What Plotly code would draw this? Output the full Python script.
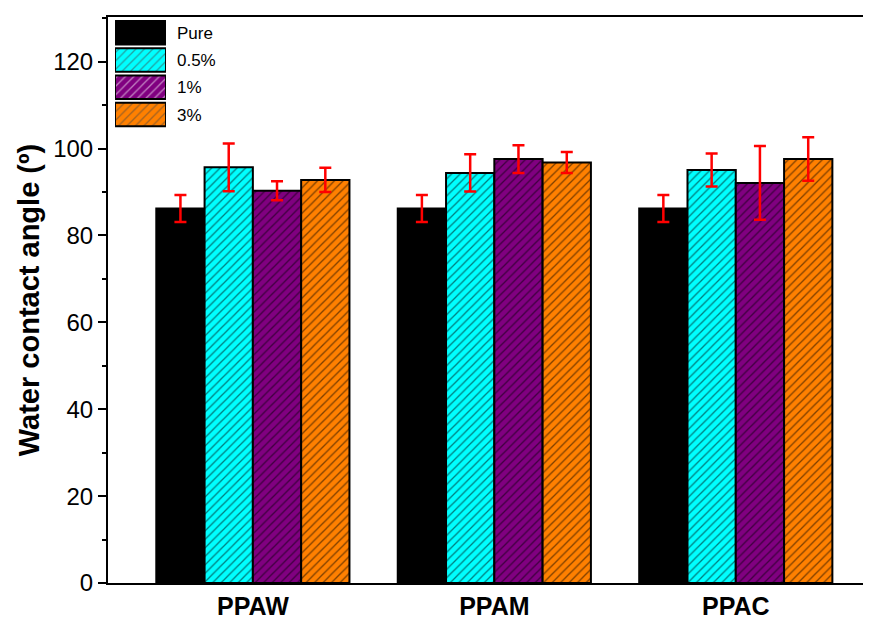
import plotly.graph_objects as go

# ---- data ----
categories = ["PPAW", "PPAM", "PPAC"]
series_names = ["Pure", "0.5%", "1%", "3%"]
pure = [86.2, 86.2, 86.2]
pure_err = [3.1, 3.1, 3.1]
p05 = [95.7, 94.4, 95.1]
p05_err = [5.5, 4.3, 3.8]
p1 = [90.3, 97.6, 92.1]
p1_err = [2.2, 3.2, 8.5]
p3 = [92.8, 96.8, 97.6]
p3_err = [2.8, 2.4, 5.0]
y_ticks = [0, 20, 40, 60, 80, 100, 120]

values = [pure, p05, p1, p3]
errors = [pure_err, p05_err, p1_err, p3_err]
colors = ["#000000", "#00FFFF", "#800080", "#FF8000"]
shapes = ["", "/", "/", "/"]

FONT = "Arial, Liberation Sans, sans-serif"

fig = go.Figure()
for name, v, e, c, s in zip(series_names, values, errors, colors, shapes):
    fig.add_trace(go.Bar(
        x=categories, y=v, name=name, showlegend=False,
        marker=dict(color=c, line=dict(color="black", width=2),
                    pattern=dict(shape=s, fgcolor="black", bgcolor=c, size=6, solidity=0.22)),
        error_y=dict(type="data", array=e, color="red", thickness=2.5, width=6),
    ))

# custom legend with large swatches, drawn as bars on an overlay axis
fig.add_trace(go.Bar(
    x=[1] * len(series_names), y=series_names, orientation="h",
    xaxis="x2", yaxis="y2", showlegend=False, width=0.86, hoverinfo="skip",
    marker=dict(color=colors, line=dict(color="black", width=2),
                pattern=dict(shape=shapes, fgcolor="black", bgcolor=colors, size=6, solidity=0.22)),
))

fig.update_layout(
    width=871, height=619,
    margin=dict(l=100, r=8, t=7, b=34),
    paper_bgcolor="white", plot_bgcolor="white",
    barmode="group", bargap=0.2, bargroupgap=0,
    font=dict(family=FONT, color="black"),
    xaxis=dict(
        type="category", range=[-0.6, 2.56],
        showline=True, linecolor="black", linewidth=2, mirror=True,
        ticks="", showgrid=False, zeroline=False,
        tickfont=dict(size=25, family=FONT, weight="bold"),
        ticklabelstandoff=0,
    ),
    yaxis=dict(
        range=[0, 130.3], tickvals=y_ticks,
        showline=True, linecolor="black", linewidth=2, mirror=False,
        ticks="outside", ticklen=8, tickwidth=2, tickcolor="black",
        minor=dict(dtick=10, ticks="outside", ticklen=4, tickwidth=2, tickcolor="black", showgrid=False),
        showgrid=False, zeroline=False,
        tickfont=dict(size=24, family=FONT),
        title=dict(text="Water contact angle (º)", font=dict(size=29, family=FONT, weight="bold"), standoff=5),
    ),
    xaxis2=dict(domain=[0.0092, 0.076], anchor="y2", range=[0, 1], visible=False, fixedrange=True),
    yaxis2=dict(domain=[0.8035, 0.9965], anchor="x2", type="category", autorange="reversed",
                side="right", showline=False, showgrid=False, zeroline=False, ticks="",
                tickfont=dict(size=17, family=FONT), ticklabelstandoff=10),
)

fig.write_html("out.html")
